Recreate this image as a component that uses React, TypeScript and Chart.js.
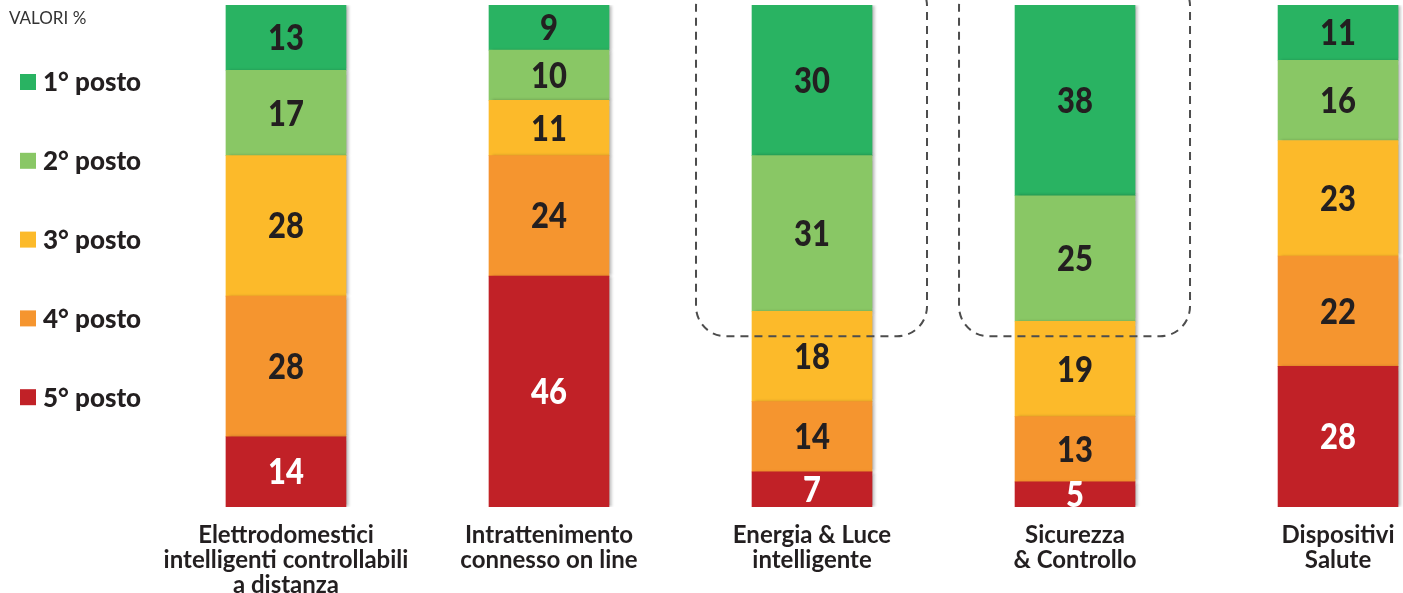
import React, { useEffect, useRef } from "react";
import { Chart, registerables } from "chart.js";

Chart.register(...registerables);

const categories: string[][] = [
  ["Elettrodomestici", "intelligenti controllabili", "a distanza"],
  ["Intrattenimento", "connesso on line"],
  ["Energia & Luce", "intelligente"],
  ["Sicurezza", "& Controllo"],
  ["Dispositivi", "Salute"],
];
const rankLabels = ["1° posto", "2° posto", "3° posto", "4° posto", "5° posto"];
const posto1 = [13, 9, 30, 38, 11];
const posto2 = [17, 10, 31, 25, 16];
const posto3 = [28, 11, 18, 19, 23];
const posto4 = [28, 24, 14, 13, 22];
const posto5 = [14, 46, 7, 5, 28];
const rankColors = ["#29B362", "#89C765", "#FCBA2A", "#F5952F", "#C12127"];
const highlighted = [2, 3];
const unitLabel = "VALORI %";

const FONT = "Lato, 'Open Sans', sans-serif";

export default function App() {
  const ref = useRef<HTMLCanvasElement>(null);
  useEffect(() => {
    if (!ref.current) return;
    const series = [posto1, posto2, posto3, posto4, posto5];
    // bottom to top: 5° ... 1°
    const order = [4, 3, 2, 1, 0];
    const datasets = order.map((r) => ({
      label: rankLabels[r],
      data: series[r].map((v, i) => ({ x: i, y: v })),
      backgroundColor: rankColors[r],
      borderWidth: 0,
      barThickness: 120,
      rank: r,
    }));

    const shadowPlugin = {
      id: "shadow",
      beforeDatasetsDraw(chart: any) {
        const ctx = chart.ctx;
        ctx.save();
        ctx.shadowColor = "rgba(0,0,0,0.28)";
        ctx.shadowOffsetX = 3;
        ctx.shadowOffsetY = 0;
        ctx.shadowBlur = 3;
      },
      afterDatasetsDraw(chart: any) {
        chart.ctx.restore();
      },
    };

    const labelsPlugin = {
      id: "valueLabels",
      afterDatasetsDraw(chart: any) {
        const ctx = chart.ctx;
        chart.data.datasets.forEach((ds: any, di: number) => {
          const meta = chart.getDatasetMeta(di);
          meta.data.forEach((el: any, i: number) => {
            const v = ds.data[i].y;
            const cy = (el.y + el.base) / 2 + 1;
            ctx.save();
            ctx.translate(el.x, cy);
            ctx.scale(0.86, 1);
            ctx.font = `900 36px ${FONT}`;
            ctx.textAlign = "center";
            ctx.textBaseline = "middle";
            ctx.fillStyle = ds.rank === 4 ? "#FFFFFF" : "#231F20";
            ctx.fillText(String(v), 0, 0);
            ctx.restore();
          });
        });
      },
    };

    const highlightPlugin = {
      id: "highlight",
      afterDraw(chart: any) {
        const ctx = chart.ctx;
        const xs = chart.scales.x;
        const ys = chart.scales.y;
        ctx.save();
        ctx.strokeStyle = "#4D4D4D";
        ctx.lineWidth = 2;
        ctx.setLineDash([8, 6]);
        highlighted.forEach((i) => {
          const cx = xs.getPixelForValue(i);
          const left = cx - 116;
          const w = 231;
          const top = -24;
          const bottom = ys.getPixelForValue(34);
          ctx.beginPath();
          ctx.roundRect(left, top, w, bottom - top, 30);
          ctx.stroke();
        });
        ctx.restore();
      },
    };

    const legendPlugin = {
      id: "customLegend",
      afterDraw(chart: any) {
        const ctx = chart.ctx;
        ctx.save();
        ctx.fillStyle = "#333333";
        ctx.font = `17px ${FONT}`;
        ctx.textAlign = "left";
        ctx.textBaseline = "middle";
        ctx.fillText(unitLabel, 9, 19);
        rankLabels.forEach((lab, r) => {
          const y = 82 + r * 78.8;
          ctx.fillStyle = rankColors[r];
          ctx.fillRect(20, y - 8, 16, 16);
          ctx.fillStyle = "#231F20";
          ctx.font = `900 26px ${FONT}`;
          ctx.fillText(lab, 43, y + 1);
        });
        ctx.restore();
      },
    };

    const chart = new Chart(ref.current, {
      type: "bar",
      data: { datasets: datasets as any },
      options: {
        animation: false,
        responsive: false,
        maintainAspectRatio: false,
        layout: { padding: { left: 155, right: 0, top: 5, bottom: 0 } },
        plugins: { legend: { display: false }, tooltip: { enabled: false } },
        scales: {
          x: {
            type: "linear",
            stacked: true,
            offset: false,
            min: -0.498,
            max: 4.247,
            grid: { display: false },
            border: { display: false },
            afterBuildTicks: (scale: any) => {
              scale.ticks = categories.map((_, i) => ({ value: i }));
            },
            afterFit: (scale: any) => {
              scale.height = 86;
            },
            ticks: {
              autoSkip: false,
              maxRotation: 0,
              padding: 8,
              color: "#231F20",
              font: { family: FONT, size: 24, weight: "bold", lineHeight: "25px" },
              callback: (v: any) => categories[Math.round(Number(v))] ?? "",
            },
          },
          y: {
            stacked: true,
            min: 0,
            max: 100,
            display: false,
          },
        },
      },
      plugins: [shadowPlugin, labelsPlugin, highlightPlugin, legendPlugin],
    });
    return () => chart.destroy();
  }, []);
  return (
    <div style={{ position: "fixed", left: 0, top: 0, width: 1403, height: 593, background: "#fff" }}>
      <canvas ref={ref} width={1403} height={593} style={{ width: 1403, height: 593, display: "block" }} />
    </div>
  );
}
